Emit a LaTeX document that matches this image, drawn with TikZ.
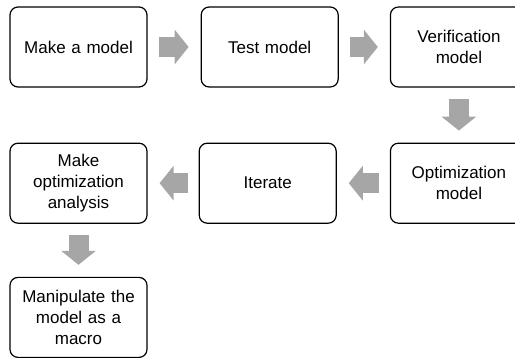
\documentclass[tikz,border=0pt]{standalone}
\usepackage{fontspec}
\setmainfont{Liberation Sans}
\usetikzlibrary{positioning,arrows.meta}
\definecolor{flowgray}{RGB}{166,166,166}
\tikzset{
    box/.style={draw, rounded corners=8pt, line width=1.2pt,
        minimum width=137pt, minimum height=80pt, inner sep=0pt,
        text width=125pt, align=center, font=\fontsize{17}{21}\selectfont},
    flow/.style={draw=flowgray, line width=20pt,
        -{Triangle[width=34pt,length=14pt]},
        shorten <=11pt, shorten >=12pt},
}

\begin{document}
\begin{tikzpicture}[x=1pt,y=1pt]
    \useasboundingbox (0,0) rectangle (515,-358);
    % first row, left to right
    \node[box] (make) at (78.5,-47) {Make a model};
    \node[box, right=53pt of make] (test) {Test model};
    \node[box, right=51pt of test] (verif) {Verification\\model};
    % second row, right to left
    \node[box, below=55pt of verif] (optim) {Optimization\\model};
    \node[box, left=53pt of optim] (iter) {Iterate};
    \node[box, left=51pt of iter] (analysis) {Make\\optimization\\analysis};
    \node[box, below=53pt of analysis] (macro) {Manipulate the\\model as a\\macro};
    \draw[flow] (make) -- (test);
    \draw[flow] (test) -- (verif);
    \draw[flow] (verif) -- (optim);
    \draw[flow] (optim) -- (iter);
    \draw[flow] (iter) -- (analysis);
    \draw[flow] (analysis) -- (macro);
\end{tikzpicture}
\end{document}
